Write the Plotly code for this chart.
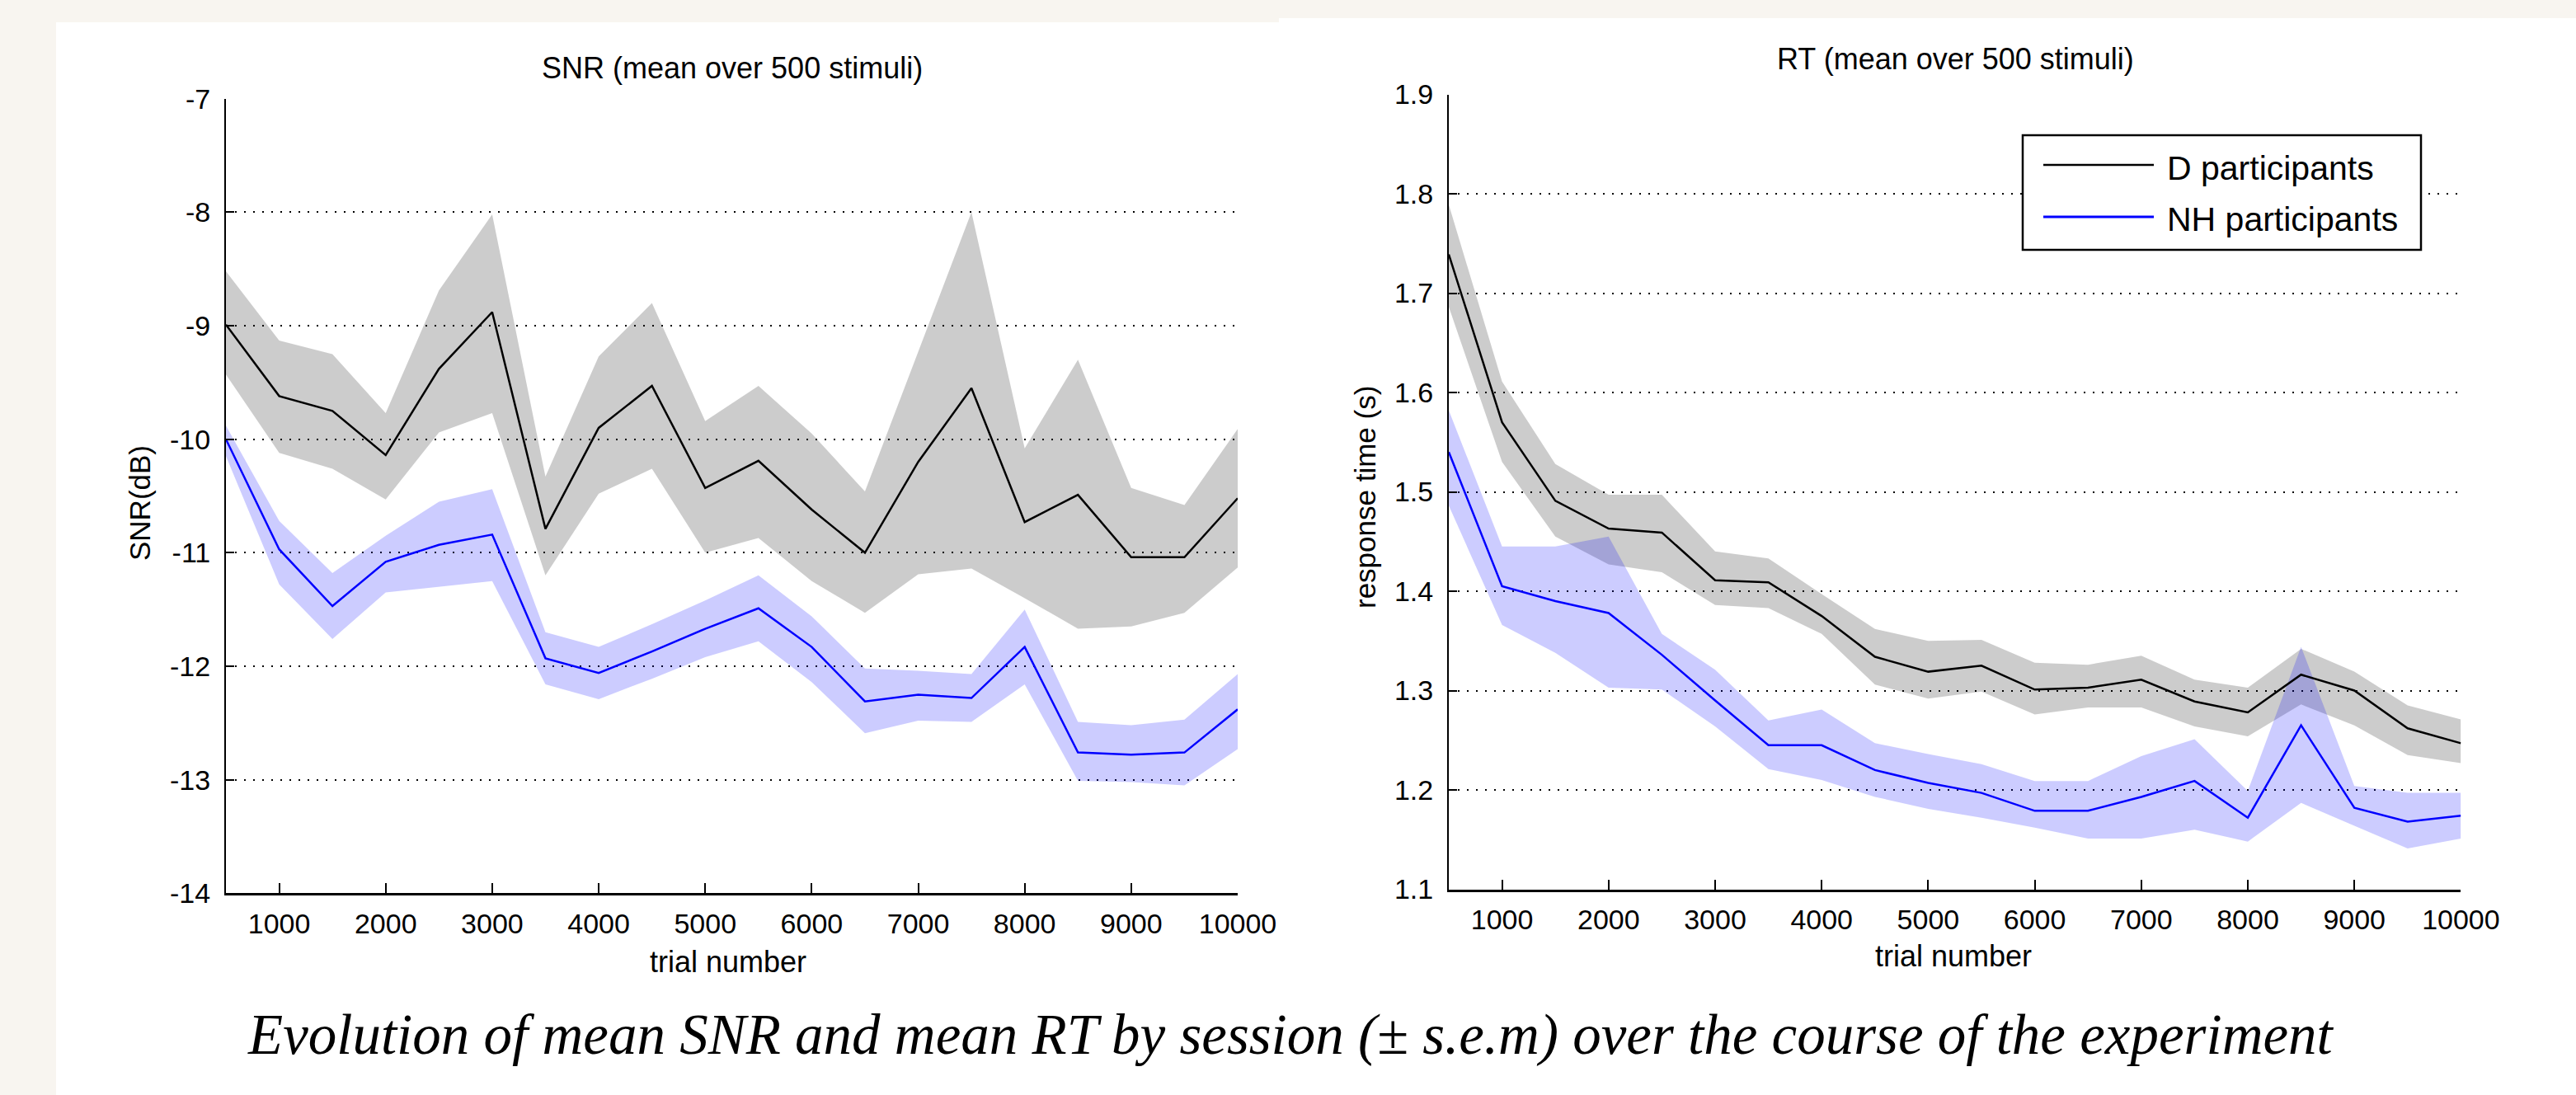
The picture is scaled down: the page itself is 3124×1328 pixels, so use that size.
import plotly.graph_objects as go

# ---------------- data ----------------
trials = [500, 1000, 1500, 2000, 2500, 3000, 3500, 4000, 4500, 5000,
          5500, 6000, 6500, 7000, 7500, 8000, 8500, 9000, 9500, 10000]

# SNR (dB), D participants
snr_d_mean = [-8.99, -9.62, -9.75, -10.14, -9.38, -8.88, -10.79, -9.90, -9.53, -10.43,
              -10.19, -10.62, -11.00, -10.20, -9.55, -10.73, -10.49, -11.04, -11.04, -10.52]
snr_d_upper = [-8.52, -9.13, -9.25, -9.77, -8.69, -8.02, -10.33, -9.27, -8.80, -9.84,
               -9.53, -9.95, -10.46, -9.23, -8.00, -10.08, -9.30, -10.43, -10.58, -9.91]
snr_d_lower = [-9.43, -10.12, -10.26, -10.53, -9.94, -9.77, -11.20, -10.48, -10.26, -11.00,
               -10.87, -11.25, -11.53, -11.19, -11.14, -11.40, -11.67, -11.65, -11.53, -11.13]

# SNR (dB), NH participants
snr_nh_mean = [-10.00, -10.97, -11.47, -11.08, -10.93, -10.84, -11.93, -12.06, -11.87, -11.67,
               -11.49, -11.83, -12.31, -12.25, -12.28, -11.83, -12.76, -12.78, -12.76, -12.38]
snr_nh_upper = [-9.88, -10.72, -11.18, -10.85, -10.55, -10.44, -11.70, -11.83, -11.63, -11.42,
                -11.20, -11.56, -12.02, -12.04, -12.07, -11.50, -12.49, -12.52, -12.47, -12.07]
snr_nh_lower = [-10.15, -11.28, -11.76, -11.35, -11.30, -11.25, -12.16, -12.29, -12.11, -11.92,
                -11.78, -12.14, -12.59, -12.48, -12.49, -12.16, -13.01, -13.02, -13.05, -12.73]

# RT (s), D participants
rt_d_mean = [1.739, 1.570, 1.491, 1.463, 1.459, 1.411, 1.409, 1.375, 1.334, 1.319,
             1.325, 1.301, 1.303, 1.311, 1.289, 1.278, 1.316, 1.300, 1.262, 1.247]
rt_d_upper = [1.789, 1.611, 1.528, 1.497, 1.497, 1.440, 1.433, 1.397, 1.362, 1.350,
              1.351, 1.328, 1.326, 1.335, 1.311, 1.303, 1.342, 1.319, 1.285, 1.271]
rt_d_lower = [1.686, 1.530, 1.455, 1.427, 1.419, 1.386, 1.383, 1.357, 1.306, 1.292,
              1.299, 1.276, 1.283, 1.283, 1.264, 1.254, 1.286, 1.265, 1.235, 1.227]

# RT (s), NH participants
rt_nh_mean = [1.540, 1.405, 1.390, 1.378, 1.336, 1.290, 1.245, 1.245, 1.220, 1.207,
              1.197, 1.179, 1.179, 1.193, 1.209, 1.172, 1.265, 1.182, 1.168, 1.174]
rt_nh_upper = [1.582, 1.445, 1.445, 1.455, 1.357, 1.321, 1.270, 1.281, 1.247, 1.236,
               1.226, 1.209, 1.209, 1.234, 1.251, 1.199, 1.344, 1.204, 1.197, 1.197]
rt_nh_lower = [1.486, 1.366, 1.338, 1.303, 1.301, 1.264, 1.221, 1.210, 1.193, 1.181,
               1.172, 1.162, 1.151, 1.151, 1.160, 1.148, 1.187, 1.164, 1.141, 1.151]

series_names = ["D participants", "NH participants"]

x_tick_vals = [1000, 2000, 3000, 4000, 5000, 6000, 7000, 8000, 9000, 10000]
x_tick_text = ["1000", "2000", "3000", "4000", "5000", "6000", "7000", "8000", "9000", "10000"]
snr_tick_vals = [-14, -13, -12, -11, -10, -9, -8, -7]
snr_tick_text = ["-14", "-13", "-12", "-11", "-10", "-9", "-8", "-7"]
rt_tick_vals = [1.1, 1.2, 1.3, 1.4, 1.5, 1.6, 1.7, 1.8, 1.9]
rt_tick_text = ["1.1", "1.2", "1.3", "1.4", "1.5", "1.6", "1.7", "1.8", "1.9"]

title_snr = "SNR (mean over 500 stimuli)"
title_rt = "RT (mean over 500 stimuli)"
ylabel_snr = "SNR(dB)"
ylabel_rt = "response time (s)"
xlabel = "trial number"
caption = "Evolution of mean SNR and mean RT by session (± s.e.m) over the course of the experiment"

# ---------------- styling ----------------
W, H = 3124, 1328
BLACK = "#000000"
BLUE = "#0000ff"
GRAY_FILL = "rgba(0,0,0,0.2)"
BLUE_FILL = "rgba(0,0,255,0.2)"
SANS = "Liberation Sans, Arial, sans-serif"


def px(x):
    return x / W


def py(y):
    return 1 - y / H


fig = go.Figure()


def add_band(xa, ya, upper, lower, color):
    fig.add_trace(go.Scatter(
        x=trials + trials[::-1], y=upper + lower[::-1],
        mode="lines", fill="toself", fillcolor=color,
        line=dict(width=0), hoverinfo="skip", showlegend=False,
        xaxis=xa, yaxis=ya))


def add_line(xa, ya, values, color, name):
    fig.add_trace(go.Scatter(
        x=trials, y=values, mode="lines", name=name,
        line=dict(color=color, width=2.5), showlegend=False,
        xaxis=xa, yaxis=ya))


# left panel
add_band("x", "y", snr_d_upper, snr_d_lower, GRAY_FILL)
add_band("x", "y", snr_nh_upper, snr_nh_lower, BLUE_FILL)
add_line("x", "y", snr_d_mean, BLACK, series_names[0])
add_line("x", "y", snr_nh_mean, BLUE, series_names[1])
# right panel
add_band("x2", "y2", rt_d_upper, rt_d_lower, GRAY_FILL)
add_band("x2", "y2", rt_nh_upper, rt_nh_lower, BLUE_FILL)
add_line("x2", "y2", rt_d_mean, BLACK, series_names[0])
add_line("x2", "y2", rt_nh_mean, BLUE, series_names[1])

tickfont = dict(family=SANS, size=34, color=BLACK)

xaxis_common = dict(
    range=[500, 10000], tickmode="array", tickvals=x_tick_vals, ticktext=x_tick_text,
    ticks="inside", ticklen=12, tickwidth=2, tickcolor=BLACK,
    showline=True, linecolor=BLACK, linewidth=3, showgrid=False, zeroline=False,
    tickfont=tickfont, ticklabelstandoff=5, fixedrange=True, automargin=False)
yaxis_common = dict(
    tickmode="array", ticks="inside", ticklen=10, tickwidth=2, tickcolor=BLACK,
    showline=True, linecolor=BLACK, linewidth=2, showgrid=True, gridcolor=BLACK,
    gridwidth=2, griddash="2px,9px", zeroline=False, tickfont=tickfont,
    ticklabelstandoff=10, fixedrange=True, automargin=False)

fig.update_layout(
    width=W, height=H, autosize=False,
    margin=dict(l=0, r=0, t=0, b=0, pad=0, autoexpand=False),
    paper_bgcolor="#f8f5f0", plot_bgcolor="#ffffff",
    showlegend=False,
    xaxis=dict(domain=[px(274), px(1501)], anchor="y", **xaxis_common),
    yaxis=dict(domain=[py(1083.3), py(119.7)], anchor="x", range=[-14, -7],
               tickvals=snr_tick_vals, ticktext=snr_tick_text, **yaxis_common),
    xaxis2=dict(domain=[px(1757), px(2984.4)], anchor="y2", **xaxis_common),
    yaxis2=dict(domain=[py(1078.5), py(114.5)], anchor="x2", range=[1.1, 1.9],
                tickvals=rt_tick_vals, ticktext=rt_tick_text, **yaxis_common),
)

# background panels (white slide areas over off-white)
shapes = [
    dict(type="rect", xref="paper", yref="paper", x0=px(68), x1=px(1551), y0=py(1328), y1=py(27),
         fillcolor="#ffffff", line=dict(width=0), layer="below"),
    dict(type="rect", xref="paper", yref="paper", x0=px(1551), x1=px(3124), y0=py(1328), y1=py(22),
         fillcolor="#ffffff", line=dict(width=0), layer="below"),
    # legend box
    dict(type="rect", xref="paper", yref="paper", x0=px(2453), x1=px(2936), y0=py(303), y1=py(164),
         fillcolor="#ffffff", line=dict(color=BLACK, width=2.5), layer="above"),
    dict(type="line", xref="paper", yref="paper", x0=px(2478), x1=px(2612), y0=py(200), y1=py(200),
         line=dict(color=BLACK, width=2.5), layer="above"),
    dict(type="line", xref="paper", yref="paper", x0=px(2478), x1=px(2612), y0=py(263), y1=py(263),
         line=dict(color=BLUE, width=3), layer="above"),
]
fig.update_layout(shapes=shapes)

ann_font = dict(family=SANS, size=36, color=BLACK)
annotations = [
    dict(text=title_snr, x=px(887.5), y=py(82.5), xref="paper", yref="paper",
         xanchor="center", yanchor="middle", showarrow=False, font=ann_font),
    dict(text=title_rt, x=px(2371), y=py(71.5), xref="paper", yref="paper",
         xanchor="center", yanchor="middle", showarrow=False, font=ann_font),
    dict(text=xlabel, x=px(883), y=py(1166), xref="paper", yref="paper",
         xanchor="center", yanchor="middle", showarrow=False, font=ann_font),
    dict(text=xlabel, x=px(2369), y=py(1159), xref="paper", yref="paper",
         xanchor="center", yanchor="middle", showarrow=False, font=ann_font),
    dict(text=ylabel_snr, x=px(170), y=py(610), xref="paper", yref="paper", textangle=-90,
         xanchor="center", yanchor="middle", showarrow=False, font=dict(family=SANS, size=35, color=BLACK)),
    dict(text=ylabel_rt, x=px(1655), y=py(603), xref="paper", yref="paper", textangle=-90,
         xanchor="center", yanchor="middle", showarrow=False, font=dict(family=SANS, size=35, color=BLACK)),
    dict(text=series_names[0], x=px(2626), y=py(204), xref="paper", yref="paper",
         xanchor="left", yanchor="middle", showarrow=False, font=dict(family=SANS, size=41, color=BLACK)),
    dict(text=series_names[1], x=px(2626), y=py(266), xref="paper", yref="paper",
         xanchor="left", yanchor="middle", showarrow=False, font=dict(family=SANS, size=41, color=BLACK)),
    dict(text="<i>" + caption + "</i>", x=px(298), y=py(1255), xref="paper", yref="paper",
         xanchor="left", yanchor="middle", showarrow=False,
         font=dict(family="Liberation Serif, Times New Roman, serif", size=69, color=BLACK)),
]
fig.update_layout(annotations=annotations)

fig.write_html("out.html")
